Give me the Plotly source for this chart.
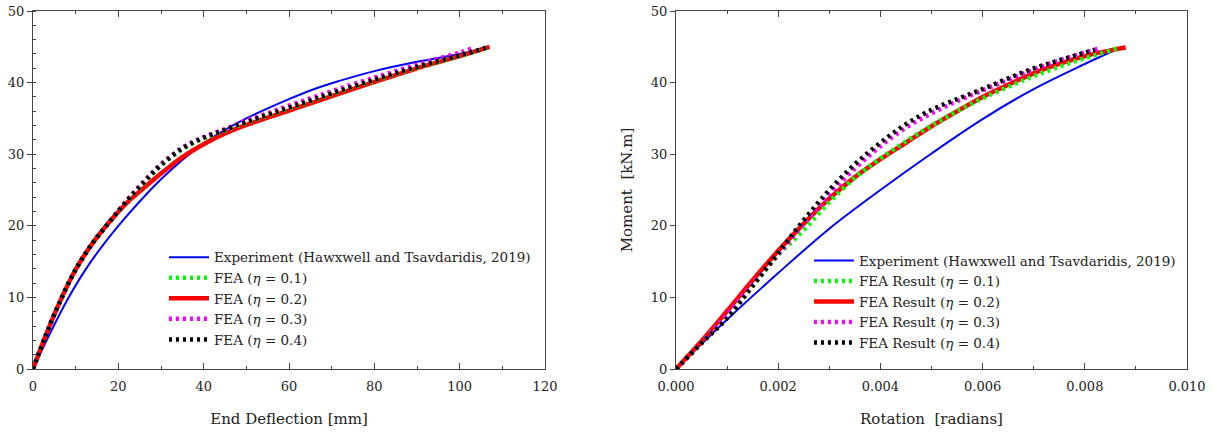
import plotly.graph_objects as go

# ---------------- Left panel: End deflection [mm] vs moment ----------------
exp_defl = [0, 4, 8, 12, 16, 20, 25, 30, 35, 40, 45, 50, 55, 60, 65, 70, 80, 90, 100, 107]
exp_mom_l = [0, 5.0, 9.6, 13.6, 17.0, 20.0, 23.4, 26.5, 29.2, 31.5, 33.4, 35.0, 36.4, 37.7, 38.9, 39.9, 41.6, 42.9, 44.0, 44.9]

fea_defl = [0, 3, 6, 10, 14, 18, 22, 26, 30, 35, 40, 45, 50, 55, 60, 65, 70, 80, 90, 100, 107]
fea01_l = [0, 4.7, 9.0, 13.9, 17.6, 20.6, 23.4, 26.0, 28.4, 30.7, 32.2, 33.3, 34.4, 35.4, 36.4, 37.4, 38.4, 40.3, 42.1, 43.7, 45.0]
fea02_l = [0, 4.7, 9.0, 13.9, 17.6, 20.6, 23.2, 25.3, 27.3, 29.6, 31.4, 32.9, 34.1, 35.1, 36.1, 37.1, 38.1, 40.1, 42.0, 43.7, 45.0]
fea04_l = [0, 4.7, 9.0, 13.9, 17.6, 20.6, 23.5, 26.1, 28.5, 30.8, 32.3, 33.4, 34.5, 35.5, 36.5, 37.5, 38.5, 40.4, 42.2, 43.8, 45.0]
fea03_defl = [0, 3, 6, 10, 14, 18, 22, 26, 30, 35, 40, 45, 50, 55, 60, 65, 70, 80, 90, 100, 103]
fea03_l = [0, 4.7, 9.0, 13.9, 17.6, 20.6, 23.5, 26.2, 28.6, 30.9, 32.4, 33.5, 34.7, 35.7, 36.8, 37.8, 38.8, 40.7, 42.5, 44.2, 44.8]

# ---------------- Right panel: Rotation [radians] vs moment ----------------
exp_rot = [0, 0.001, 0.002, 0.003, 0.004, 0.005, 0.006, 0.007, 0.008, 0.0087]
exp_mom_r = [0, 6.9, 13.4, 19.6, 25.0, 30.1, 34.9, 39.1, 42.6, 44.9]

rot = [0, 0.0005, 0.001, 0.0015, 0.002, 0.0025, 0.003, 0.0035, 0.004, 0.0045,
       0.005, 0.0055, 0.006, 0.0065, 0.007, 0.0075, 0.008, 0.0085]
fea01_r = [0, 3.7, 7.4, 11.6, 15.9, 19.4, 23.3, 26.7, 29.4, 31.8, 34.0, 36.0, 37.8, 39.4, 40.9, 42.2, 43.4, 44.4]
fea02_r = [0, 3.9, 8.1, 12.4, 16.5, 20.3, 23.8, 26.8, 29.3, 31.6, 33.9, 36.0, 38.0, 39.7, 41.3, 42.6, 43.7, 44.5]
fea03_r = [0, 3.7, 7.6, 11.9, 16.0, 20.3, 24.4, 28.0, 31.1, 33.7, 35.7, 37.4, 38.9, 40.4, 41.8, 43.1, 44.2]
fea04_r = [0, 3.6, 7.1, 11.6, 16.2, 20.8, 25.0, 28.6, 31.6, 34.2, 36.2, 37.7, 39.1, 40.6, 42.0, 43.1, 44.2]
end01_rot, end01_mom = 0.0087, 44.9
end02_rot, end02_mom = 0.0088, 44.9
end03_rot, end03_mom = 0.0083, 44.8
end04_rot, end04_mom = 0.0082, 44.6

left_names = ["Experiment (Hawxwell and Tsavdaridis, 2019)",
              "FEA (<i>η</i> = 0.1)", "FEA (<i>η</i> = 0.2)",
              "FEA (<i>η</i> = 0.3)", "FEA (<i>η</i> = 0.4)"]
right_names = ["Experiment (Hawxwell and Tsavdaridis, 2019)",
               "FEA Result (<i>η</i> = 0.1)", "FEA Result (<i>η</i> = 0.2)",
               "FEA Result (<i>η</i> = 0.3)", "FEA Result (<i>η</i> = 0.4)"]

FONT = "DejaVu Serif"
TXT = "#222"
BLUE, GREEN, RED, MAG, BLK = "#0000ff", "#00ff00", "#ff0000", "#ff00ff", "#000000"
DOT = "3px,4px"

fig = go.Figure()

def add(x, y, name, color, width, dash, xa, ya, legend, rank):
    fig.add_trace(go.Scatter(
        x=x, y=y, name=name, mode="lines", line_shape="spline",
        line=dict(color=color, width=width, dash=dash),
        xaxis=xa, yaxis=ya, legend=legend, legendrank=rank))

# left panel
add(exp_defl, exp_mom_l, left_names[0], BLUE, 2, "solid", "x", "y", "legend", 1)
add(fea_defl, fea02_l, left_names[2], RED, 4.5, "solid", "x", "y", "legend", 3)
add(fea_defl, fea01_l, left_names[1], GREEN, 4.5, DOT, "x", "y", "legend", 2)
add(fea03_defl, fea03_l, left_names[3], MAG, 4.5, DOT, "x", "y", "legend", 4)
add(fea_defl, fea04_l, left_names[4], BLK, 4.5, DOT, "x", "y", "legend", 5)

# right panel
add(exp_rot, exp_mom_r, right_names[0], BLUE, 2, "solid", "x2", "y2", "legend2", 1)
add(rot + [end02_rot], fea02_r + [end02_mom], right_names[2], RED, 4.5, "solid", "x2", "y2", "legend2", 3)
add(rot[:-1] + [end01_rot], fea01_r[:-1] + [end01_mom], right_names[1], GREEN, 4.5, DOT, "x2", "y2", "legend2", 2)
add(rot[:16] + [end03_rot], fea03_r[:16] + [end03_mom], right_names[3], MAG, 4.5, DOT, "x2", "y2", "legend2", 4)
add(rot[:16] + [end04_rot], fea04_r[:16] + [end04_mom], right_names[4], BLK, 4.5, DOT, "x2", "y2", "legend2", 5)

axis_common = dict(
    showgrid=False, zeroline=False, showline=True, linecolor="#444", linewidth=1.3,
    automargin=False, ticklabeloverflow="allow",
    tickfont=dict(family=FONT, size=13, color=TXT),
    title_font=dict(family=FONT, size=15, color=TXT),
)

legend_common = dict(xanchor="left", yanchor="top", bgcolor="rgba(0,0,0,0)",
                     borderwidth=0, font=dict(family=FONT, size=13.5, color=TXT),
                     tracegroupgap=0, itemwidth=40)

fig.update_layout(
    width=1213, height=432,
    margin=dict(l=33, r=26, t=11, b=63, autoexpand=False),
    paper_bgcolor="white", plot_bgcolor="white",
    font=dict(family=FONT, size=14, color=TXT),
    xaxis=dict(domain=[0, 0.4437], range=[0, 120], tick0=0, dtick=20,
               ticks="inside", ticklen=6, tickcolor="#444", mirror="allticks",
               ticklabelstandoff=5,
               minor=dict(dtick=10, ticks="inside", ticklen=3, tickcolor="#444"),
               title=dict(text="End Deflection [mm]", standoff=20), **axis_common),
    yaxis=dict(domain=[0, 1], range=[0, 50], tick0=0, dtick=10,
               ticks="outside", ticklen=5, tickcolor="#444", mirror=True,
               minor=dict(dtick=2, ticks="inside", ticklen=3, tickcolor="#444"),
               anchor="x", **axis_common),
    xaxis2=dict(domain=[0.5572, 1], range=[0, 0.010], tick0=0, dtick=0.002,
                tickformat=".3f", anchor="y2", ticklabelstandoff=5,
                ticks="inside", ticklen=6, tickcolor="#444", mirror="allticks",
                minor=dict(dtick=0.001, ticks="inside", ticklen=3, tickcolor="#444"),
                title=dict(text="Rotation  [radians]", standoff=20), **axis_common),
    yaxis2=dict(domain=[0, 1], range=[0, 50], tick0=0, dtick=10, anchor="x2",
                ticks="outside", ticklen=5, tickcolor="#444", mirror=True,
                title=dict(text="Moment  [kN.m]", standoff=14), **axis_common),
    legend=dict(x=0.1135, y=0.355, **legend_common),
    legend2=dict(x=0.6724, y=0.346, **legend_common),
)

fig.write_html("out.html", config={"displayModeBar": False},
               post_script="document.body.style.margin='0';")
